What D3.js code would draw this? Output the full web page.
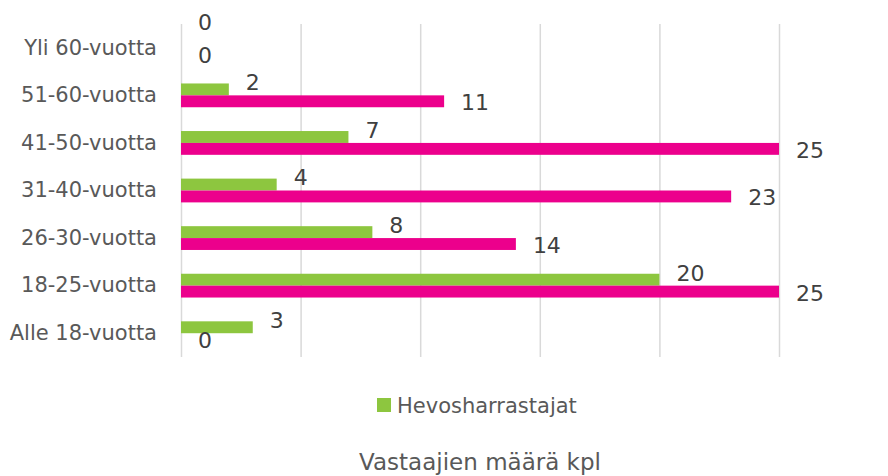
<!DOCTYPE html>
<html>
<head>
<meta charset="utf-8">
<script src="https://cdn.jsdelivr.net/npm/d3@7"></script>
<style>
  body { margin: 0; background: #fff; }
  svg { font-family: 'DejaVu Sans', Verdana, sans-serif; }
</style>
</head>
<body>
<svg id="chart" width="888" height="476"></svg>
<script>
// Chart data
const categories = ['Yli 60-vuotta', '51-60-vuotta', '41-50-vuotta', '31-40-vuotta', '26-30-vuotta', '18-25-vuotta', 'Alle 18-vuotta'];
const seriesNames = ['Hevosharrastajat', 'Muut'];
const greenValues = [0, 2, 7, 4, 8, 20, 3];
const pinkValues = [0, 11, 25, 23, 14, 25, 0];
const xTicks = [0, 5, 10, 15, 20, 25];

const colors = { Hevosharrastajat: '#8dc63f', Muut: '#ec008c' };

const svg = d3.select('#chart');
const margin = { top: 24, right: 109, bottom: 119, left: 181 };
const width = 888, height = 476;

const x = d3.scaleLinear()
    .domain([0, 25])
    .range([margin.left, width - margin.right]);

const y0 = d3.scaleBand()
    .domain(categories)
    .range([margin.top, height - margin.bottom])
    .paddingInner(0.5)
    .paddingOuter(0.25);

const y1 = d3.scaleBand()
    .domain(seriesNames)
    .range([0, y0.bandwidth()]);

const rows = categories.map((c, i) => ({
    cat: c,
    values: [
        { key: 'Hevosharrastajat', value: greenValues[i], other: pinkValues[i] },
        { key: 'Muut', value: pinkValues[i], other: greenValues[i] }
    ]
}));

// Gridlines
svg.append('g')
    .selectAll('line')
    .data(xTicks)
    .join('line')
    .attr('x1', d => x(d) + 0.5)
    .attr('x2', d => x(d) + 0.5)
    .attr('y1', margin.top)
    .attr('y2', height - margin.bottom)
    .attr('stroke', '#d9d9d9')
    .attr('stroke-width', 1.5);

// Category axis
const yAxis = svg.append('g')
    .attr('transform', `translate(${margin.left},0)`)
    .call(d3.axisLeft(y0).tickSize(0).tickPadding(24));
yAxis.select('.domain').remove();
yAxis.selectAll('text')
    .style('font-family', "'DejaVu Sans', Verdana, sans-serif")
    .style('font-size', '21px')
    .attr('fill', '#595959');

// Bars
const groups = svg.append('g')
    .selectAll('g')
    .data(rows)
    .join('g')
    .attr('transform', d => `translate(0,${y0(d.cat)})`);

groups.selectAll('rect')
    .data(d => d.values)
    .join('rect')
    .attr('x', x(0))
    .attr('y', d => y1(d.key))
    .attr('width', d => x(d.value) - x(0))
    .attr('height', y1.bandwidth())
    .attr('fill', d => colors[d.key]);

// Data labels
groups.selectAll('text')
    .data(d => d.values)
    .join('text')
    .attr('x', d => x(d.value) + 17)
    .attr('y', d => {
        let off = d.key === 'Hevosharrastajat' ? -7 : 1;
        if (d.value === 0 && d.other === 0 && d.key === 'Hevosharrastajat') off = -20;
        return y1(d.key) + y1.bandwidth() / 2 + off;
    })
    .attr('dy', '0.36em')
    .style('font-size', '22px')
    .attr('fill', '#404040')
    .text(d => d.value);

// Legend
const legend = svg.append('g')
    .attr('transform', 'translate(377,398)');
legend.append('rect')
    .attr('width', 14)
    .attr('height', 14)
    .attr('fill', colors.Hevosharrastajat);
legend.append('text')
    .attr('x', 20)
    .attr('y', 15)
    .style('font-size', '21px')
    .attr('fill', '#595959')
    .text('Hevosharrastajat');

// Axis title
svg.append('text')
    .attr('x', (x(0) + x(25)) / 2)
    .attr('y', 470)
    .attr('text-anchor', 'middle')
    .style('font-size', '23px')
    .attr('fill', '#595959')
    .text('Vastaajien määrä kpl');
</script>
</body>
</html>
